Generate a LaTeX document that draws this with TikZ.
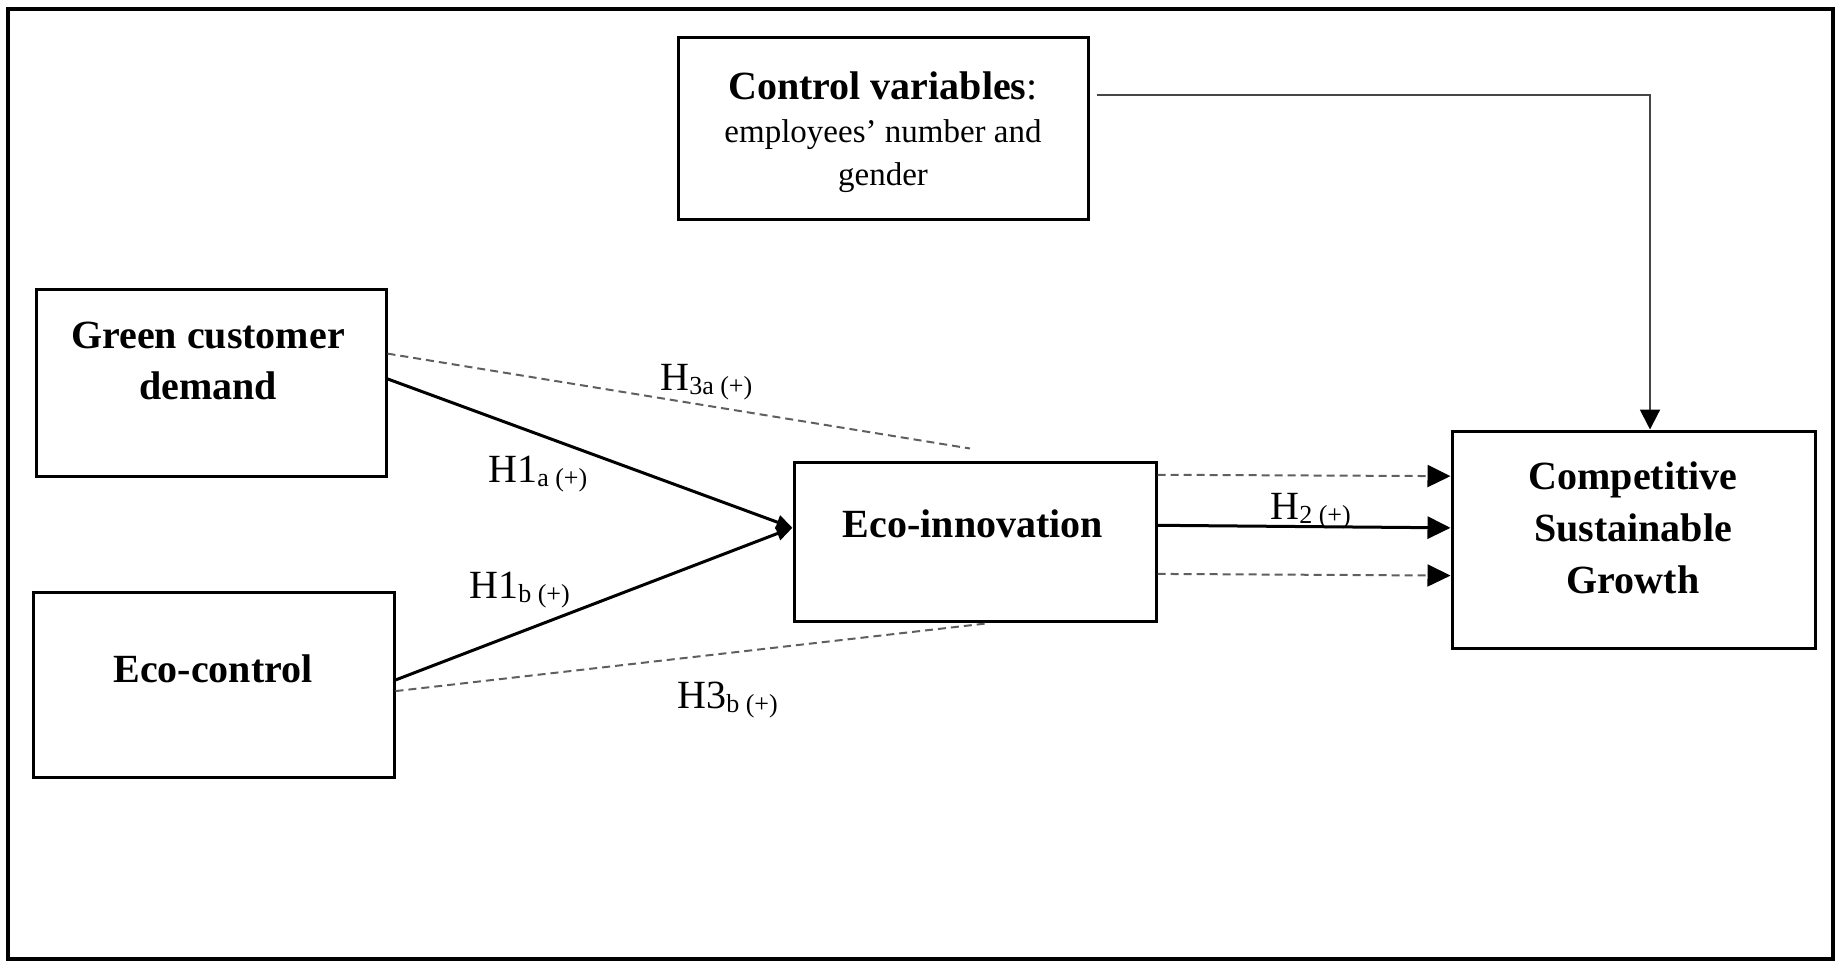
\documentclass[tikz,border=0pt]{standalone}
\usepackage{fontspec}
\setmainfont{Liberation Serif}
\usetikzlibrary{arrows.meta,calc}
\definecolor{dashgray}{RGB}{95,95,95}
\definecolor{ctrlgray}{RGB}{70,70,70}
\newcommand\sbs[1]{\raisebox{-2pt}{\fontsize{13}{13}\selectfont #1}}
\tikzset{
  box/.style={draw, line width=1.5pt, inner sep=0pt, rectangle},
  btxt/.style={font=\fontsize{20}{25.5}\selectfont\bfseries, align=center, anchor=base, inner sep=0pt},
  lab/.style={font=\fontsize{20}{24}\selectfont, anchor=base west, inner sep=0pt},
  solidarr/.style={line width=1.5pt, -{Triangle[length=11.5pt,width=11pt]}},
  convarr/.style={line width=1.5pt, -{Triangle[length=8pt,width=7pt]}},
  dasharr/.style={line width=1pt, draw=dashgray, dash pattern=on 4pt off 2.5pt, -{Triangle[length=11.5pt,width=11pt,color=black]}},
  dline/.style={line width=1pt, draw=dashgray, dash pattern=on 4pt off 2.5pt},
  ctrlarr/.style={line width=1pt, draw=ctrlgray, -{Triangle[length=10pt,width=10pt,color=black]}},
}
\begin{document}
\begin{tikzpicture}[x=0.5pt,y=-0.5pt]
\useasboundingbox (0,0) rectangle (1841,969);
\draw[line width=1.75pt] (8,9) rectangle (1833,959);

% boxes
\node[box, minimum width=205pt, minimum height=91pt] (ctrl) at (883,128) {};
\node[box, minimum width=175pt, minimum height=93.5pt] (gcd) at (211,382.5) {};
\node[box, minimum width=180.5pt, minimum height=92.5pt] (ec) at (213.5,684.5) {};
\node[box, minimum width=181pt, minimum height=79.5pt] (ei) at (975,541.5) {};
\node[box, minimum width=181.5pt, minimum height=108.5pt] (csg) at (1633.5,539.5) {};

% box texts (base anchor = baseline of the last line)
\node[btxt, font=\fontsize{16.5}{21.3}\selectfont] (ctrlt) at (883,185)
  {{\fontsize{20}{21.3}\selectfont\textbf{Control variables}:}\\employees’ number and\\gender};
\node[btxt] (gcdt) at (208,399) {Green customer\\demand};
\node[btxt] (ect) at (213,682) {Eco-control};
\node[btxt] (eit) at (973,537) {Eco-innovation};
\node[btxt, font=\fontsize{20}{26}\selectfont\bfseries] (csgt) at (1633,593) {Competitive\\Sustainable\\Growth};

% connectors
\draw[convarr] ($(gcd.north east)!0.481!(gcd.south east)$) -- ($(ei.north west)!0.415!(ei.south west)$);
\draw[convarr] ($(ec.north east)!0.476!(ec.south east)$) -- ($(ei.north west)!0.415!(ei.south west)$);
\draw[dline] ($(gcd.north east)!0.348!(gcd.south east)$) -- ([shift={(-5,-12)}]ei.north);
\draw[dline] ($(ec.north east)!0.535!(ec.south east)$) -- ([shift={(11,1)}]ei.south);

\draw[dasharr] ($(ei.north east)!0.088!(ei.south east)$) -- ($(csg.north west)!0.212!(csg.south west)$);
\draw[solidarr] ($(ei.north east)!0.40!(ei.south east)$) -- ($(csg.north west)!0.447!(csg.south west)$);
\draw[dasharr] ($(ei.north east)!0.70!(ei.south east)$) -- ($(csg.north west)!0.664!(csg.south west)$);

\draw[ctrlarr] ([xshift=3.5pt]$(ctrl.north east)!0.319!(ctrl.south east)$) -| ([xshift=8.25pt]csg.north);

% labels
\node[lab] (l3a) at (660,390) {H\sbs{3a (+)}};
\node[lab] (l1a) at (488,482) {H1\sbs{a (+)}};
\node[lab] (l1b) at (469,598) {H1\sbs{b (+)}};
\node[lab] (l3b) at (677,708) {H3\sbs{b (+)}};
\node[lab] (l2) at (1270,519) {H\sbs{2 (+)}};
\end{tikzpicture}
\end{document}
